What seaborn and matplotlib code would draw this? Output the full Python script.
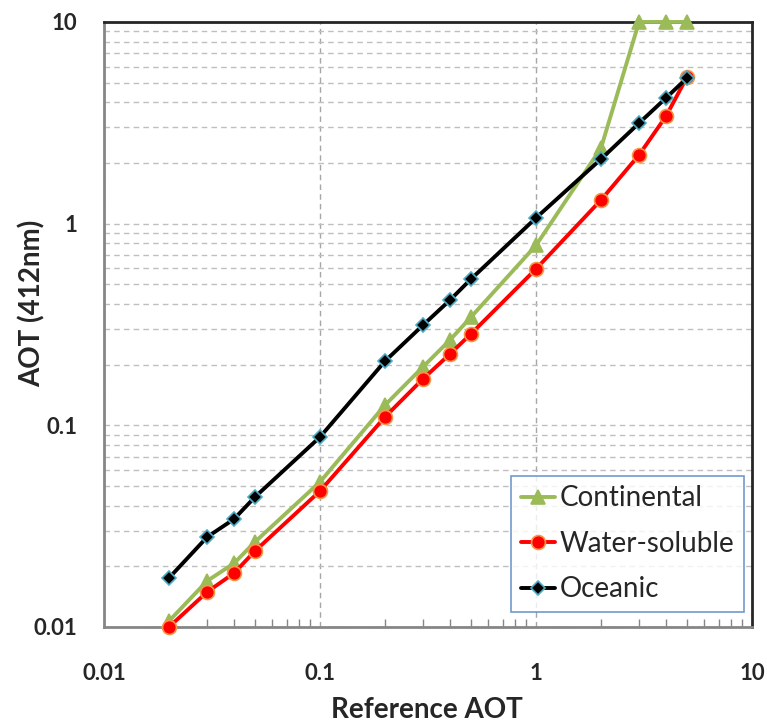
import matplotlib
matplotlib.use("Agg")
import matplotlib.pyplot as plt
import seaborn as sns
import pandas as pd
import numpy as np
from matplotlib.ticker import LogLocator, FixedLocator, NullFormatter

sns.set_theme(style="white")
plt.rcParams['font.family'] = ['Lato', 'DejaVu Sans']

ref_aot = [0.02, 0.03, 0.04, 0.05, 0.1, 0.2, 0.3, 0.4, 0.5, 1, 2, 3, 4, 5]
continental = [0.0107, 0.0169, 0.0207, 0.0264, 0.0524, 0.126, 0.195, 0.265, 0.344, 0.78, 2.37, 10, 10, 10]
water_soluble = [0.0100, 0.0149, 0.0185, 0.0238, 0.0472, 0.110, 0.170, 0.226, 0.284, 0.596, 1.31, 2.19, 3.41, 5.33]
oceanic = [0.0175, 0.0279, 0.0343, 0.0441, 0.0875, 0.208, 0.314, 0.418, 0.531, 1.067, 2.09, 3.15, 4.2, 5.27]
series_names = ["Continental", "Water-soluble", "Oceanic"]

fig = plt.figure(figsize=(7.67, 7.25), dpi=100)
ax = fig.add_axes([0.1356, 0.1352, 0.8448, 0.8345])

styles = [
    dict(color="#9BBB59", marker="^", markersize=10, markerfacecolor="#9BBB59", markeredgecolor="#9BBB59"),
    dict(color="#FF0000", marker="o", markersize=10, markerfacecolor="#FF0000", markeredgecolor="#F79646"),
    dict(color="#000000", marker="D", markersize=7.5, markerfacecolor="#000000", markeredgecolor="#4BACC6"),
]
for name, vals, st in zip(series_names, [continental, water_soluble, oceanic], styles):
    df = pd.DataFrame({"x": ref_aot, "y": vals})
    sns.lineplot(data=df, x="x", y="y", ax=ax, label=name, linewidth=2.8,
                 markeredgewidth=1.2, clip_on=False, zorder=3, **st)

ax.set_xscale("log")
ax.set_yscale("log")
ax.set_xlim(0.01, 10)
ax.set_ylim(0.01, 10)

ax.xaxis.set_major_locator(FixedLocator([0.01, 0.1, 1, 10]))
ax.yaxis.set_major_locator(FixedLocator([0.01, 0.1, 1, 10]))
ax.set_xticklabels(["0.01", "0.1", "1", "10"])
ax.set_yticklabels(["0.01", "0.1", "1", "10"])
ax.xaxis.set_minor_locator(LogLocator(base=10, subs=np.arange(2, 10)))
ax.yaxis.set_minor_locator(LogLocator(base=10, subs=np.arange(2, 10)))
ax.xaxis.set_minor_formatter(NullFormatter())
ax.yaxis.set_minor_formatter(NullFormatter())

ax.grid(True, which="major", axis="x", linestyle=(0, (4, 3)), color="#A6A6A6", linewidth=1.0)
ax.grid(True, which="both", axis="y", linestyle=(0, (4, 3)), color="#BFBFBF", linewidth=1.0)
ax.set_axisbelow(True)

ax.tick_params(axis="x", which="major", direction="inout", length=14, width=1.2, color="#868686",
               labelsize=16, pad=19)
ax.tick_params(axis="x", which="minor", direction="in", length=6, width=1, color="#868686", bottom=True)
ax.tick_params(axis="y", which="major", direction="out", length=9, width=1.2, color="#868686",
               labelsize=16, pad=10)
ax.tick_params(axis="y", which="minor", left=False)
for lbl in ax.get_xticklabels() + ax.get_yticklabels():
    lbl.set_fontweight("bold")

for s in ["left", "bottom"]:
    ax.spines[s].set_color("#868686")
    ax.spines[s].set_linewidth(2)
for s in ["top", "right"]:
    ax.spines[s].set_color("#262626")
    ax.spines[s].set_linewidth(2)

ax.set_xlabel("Reference AOT", fontsize=20, fontweight="bold", va="baseline")
ax.xaxis.set_label_coords(0.4985, -0.1505)
ax.set_ylabel("AOT (412nm)", fontsize=20, fontweight="bold", va="baseline")
ax.yaxis.set_label_coords(-0.0972, 0.5355)

leg = ax.legend(loc="lower right", bbox_to_anchor=(0.9877, 0.0248), fontsize=20, frameon=True,
                fancybox=False, borderpad=0.35, labelspacing=0.7, handlelength=1.2,
                handletextpad=0.18, borderaxespad=0)
leg.get_frame().set_edgecolor("#4F81BD")
leg.get_frame().set_linewidth(1.2)

fig.savefig("out.png", dpi=100)
